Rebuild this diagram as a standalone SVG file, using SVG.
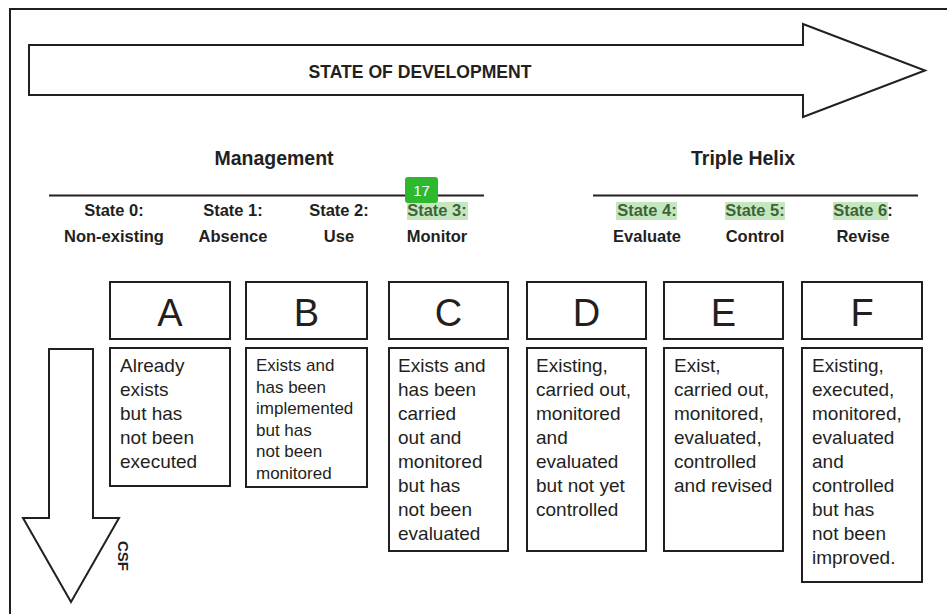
<svg xmlns="http://www.w3.org/2000/svg" width="947" height="614" viewBox="0 0 947 614">
<style>
.t{font-family:"Liberation Sans",Arial,sans-serif;fill:#231f20}
.b{font-weight:bold}
.st{font-size:16.5px;font-weight:bold;text-anchor:middle}
.box{fill:#fff;stroke:#231f20;stroke-width:2}
.ln{stroke:#231f20;stroke-width:2;fill:none}
.let{font-size:38px;text-anchor:middle}
.d{font-size:19px}
.d2{font-size:17px}
.hl{fill:#6cc35f;fill-opacity:0.4}
</style>
<rect width="947" height="614" fill="#fff"/>
<path class="ln" d="M10 614 V9 H947"/>
<g id="dev-arrow">
<path class="box" d="M29 45 H803 V24 L925 70.5 L803 117 V95 H29 Z"/>
<text class="t b" x="420" y="78" font-size="18" text-anchor="middle" textLength="223" lengthAdjust="spacingAndGlyphs">STATE OF DEVELOPMENT</text>
</g>
<g id="management">
<text class="t b" x="274" y="165" font-size="19.5" text-anchor="middle">Management</text>
<line class="ln" x1="49" y1="195.5" x2="484" y2="195.5"/>
</g>
<g id="triple-helix">
<text class="t b" x="743" y="165" font-size="19.5" text-anchor="middle">Triple Helix</text>
<line class="ln" x1="593" y1="195.5" x2="918" y2="195.5"/>
</g>
<g id="states">
<text class="t st" x="114" y="216">State 0:</text><text class="t st" x="114" y="242">Non-existing</text>
<text class="t st" x="233" y="216">State 1:</text><text class="t st" x="233" y="242">Absence</text>
<text class="t st" x="339" y="216">State 2:</text><text class="t st" x="339" y="242">Use</text>
<text class="t st" x="437" y="216">State 3:</text><text class="t st" x="437" y="242">Monitor</text>
<text class="t st" x="647" y="216">State 4:</text><text class="t st" x="647" y="242">Evaluate</text>
<text class="t st" x="755" y="216">State 5:</text><text class="t st" x="755" y="242">Control</text>
<text class="t st" x="863" y="216">State 6:</text><text class="t st" x="863" y="242">Revise</text>
<rect class="hl" x="407" y="202" width="61" height="18"/>
<rect class="hl" x="616" y="202" width="61" height="18"/>
<rect class="hl" x="725" y="202" width="60" height="18"/>
<rect class="hl" x="833" y="202" width="55" height="18"/>
<rect x="405" y="177" width="33" height="26" rx="3" fill="#2eb82e"/>
<text x="421.5" y="196" font-family="Liberation Sans,Arial,sans-serif" font-size="15" fill="#fff" text-anchor="middle">17</text>
</g>
<g id="A">
<rect class="box" x="110" y="282" width="120" height="57"/>
<text class="t let" x="170" y="326">A</text>
<rect class="box" x="110" y="348" width="120" height="138"/>
<text class="t d"><tspan x="120" y="372">Already</tspan><tspan x="120" y="396">exists</tspan><tspan x="120" y="420">but has</tspan><tspan x="120" y="444">not been</tspan><tspan x="120" y="468">executed</tspan></text>
</g>
<g id="B">
<rect class="box" x="246" y="282" width="121" height="57"/>
<text class="t let" x="306.5" y="326">B</text>
<rect class="box" x="246" y="348" width="121" height="139"/>
<text class="t d2"><tspan x="256" y="371">Exists and</tspan><tspan x="256" y="392.5">has been</tspan><tspan x="256" y="414">implemented</tspan><tspan x="256" y="435.5">but has</tspan><tspan x="256" y="457">not been</tspan><tspan x="256" y="478.5">monitored</tspan></text>
</g>
<g id="C">
<rect class="box" x="389" y="282" width="119" height="57"/>
<text class="t let" x="448.5" y="326">C</text>
<rect class="box" x="389" y="348" width="119" height="203"/>
<text class="t d"><tspan x="398" y="372">Exists and</tspan><tspan x="398" y="396">has been</tspan><tspan x="398" y="420">carried</tspan><tspan x="398" y="444">out and</tspan><tspan x="398" y="468">monitored</tspan><tspan x="398" y="492">but has</tspan><tspan x="398" y="516">not been</tspan><tspan x="398" y="540">evaluated</tspan></text>
</g>
<g id="D">
<rect class="box" x="527" y="282" width="119" height="57"/>
<text class="t let" x="586.5" y="326">D</text>
<rect class="box" x="527" y="348" width="119" height="203"/>
<text class="t d"><tspan x="536" y="372">Existing,</tspan><tspan x="536" y="396">carried out,</tspan><tspan x="536" y="420">monitored</tspan><tspan x="536" y="444">and</tspan><tspan x="536" y="468">evaluated</tspan><tspan x="536" y="492">but not yet</tspan><tspan x="536" y="516">controlled</tspan></text>
</g>
<g id="E">
<rect class="box" x="664" y="282" width="119" height="57"/>
<text class="t let" x="723.5" y="326">E</text>
<rect class="box" x="664" y="348" width="119" height="203"/>
<text class="t d"><tspan x="674" y="372">Exist,</tspan><tspan x="674" y="396">carried out,</tspan><tspan x="674" y="420">monitored,</tspan><tspan x="674" y="444">evaluated,</tspan><tspan x="674" y="468">controlled</tspan><tspan x="674" y="492">and revised</tspan></text>
</g>
<g id="F">
<rect class="box" x="802" y="282" width="120" height="57"/>
<text class="t let" x="862" y="326">F</text>
<rect class="box" x="802" y="348" width="120" height="234"/>
<text class="t d"><tspan x="812" y="372">Existing,</tspan><tspan x="812" y="396">executed,</tspan><tspan x="812" y="420">monitored,</tspan><tspan x="812" y="444">evaluated</tspan><tspan x="812" y="468">and</tspan><tspan x="812" y="492">controlled</tspan><tspan x="812" y="516">but has</tspan><tspan x="812" y="540">not been</tspan><tspan x="812" y="564">improved.</tspan></text>
</g>
<g id="csf-arrow">
<path class="box" d="M49 349 H93 V518 H119 L71 602 L23 518 H49 Z"/>
<text class="t b" x="0" y="0" font-size="15" text-anchor="middle" transform="translate(118 556) rotate(90)">CSF</text>
</g>
</svg>
